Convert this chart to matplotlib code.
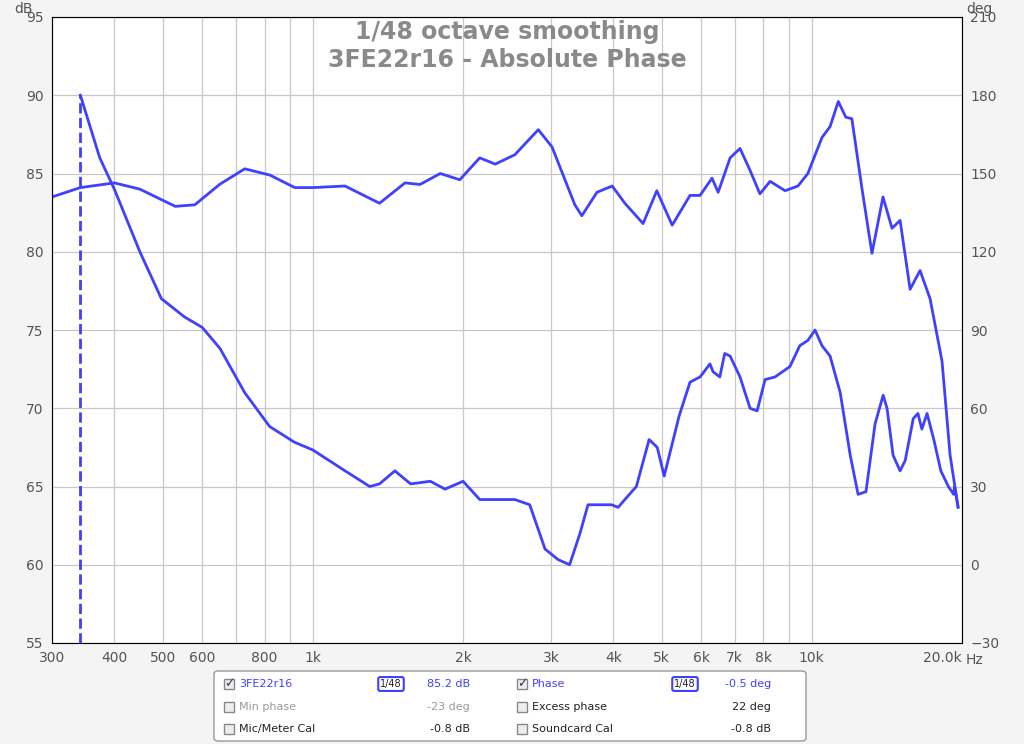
import matplotlib
matplotlib.use("Agg")
import matplotlib.pyplot as plt
from matplotlib.patches import FancyBboxPatch, Rectangle

# magnitude (dB, left axis)
mag_freq = [300, 342, 400, 450, 530, 580, 650, 730, 820, 920, 1000, 1160, 1360, 1530,
            1640, 1800, 1970, 2160, 2320, 2540, 2830, 3015, 3350, 3460, 3710, 3980,
            4220, 4590, 4890, 5250, 5700, 5970, 6310, 6490, 6860, 7180, 7520, 7870,
            8250, 8840, 9380, 9820, 10480, 10880, 11300, 11700, 12030, 12610, 13200,
            13890, 14480, 15030, 15740, 16480, 17260, 18240, 18930, 19640]
mag_db = [83.5, 84.1, 84.4, 84.0, 82.9, 83.0, 84.3, 85.3, 84.9, 84.1, 84.1, 84.2, 83.1, 84.4,
          84.3, 85.0, 84.6, 86.0, 85.6, 86.2, 87.8, 86.7, 83.0, 82.3, 83.8, 84.2,
          83.1, 81.8, 83.9, 81.7, 83.6, 83.6, 84.7, 83.8, 86.0, 86.6, 85.2, 83.7,
          84.5, 83.9, 84.2, 85.0, 87.3, 88.0, 89.6, 88.6, 88.5, 84.0, 79.9,
          83.5, 81.5, 82.0, 77.6, 78.8, 77.0, 73.0, 67.0, 63.7]

# phase (deg, right axis)
ph_freq = [342, 374, 400, 450, 497, 553, 600, 651, 730, 819, 918, 1000, 1160, 1300, 1360,
           1460, 1570, 1720, 1840, 2000, 2160, 2370, 2540, 2720, 2920, 3100, 3270, 3430,
           3560, 3970, 4090, 4220, 4450, 4720, 4900, 5060, 5420, 5700, 5970, 6250, 6340,
           6540, 6690, 6860, 7180, 7520, 7770, 8060, 8440, 9040, 9460, 9820, 10150,
           10480, 10880, 11400, 11940, 12380, 12840, 13390, 13900, 14150, 14550, 15030,
           15390, 15970, 16320, 16620, 17020, 17560, 18140, 18780, 19240, 19330, 19640]
ph_deg = [180, 156, 144, 120, 102, 95, 91, 83, 66, 53, 47, 44, 36, 30, 31,
          36, 31, 32, 29, 32, 25, 25, 25, 23, 6, 2, 0, 12,
          23, 23, 22, 25, 30, 48, 45, 34, 57, 70, 72, 77, 74,
          72, 81, 80, 72, 60, 59, 71, 72, 76, 84, 86, 90,
          84, 80, 66, 42, 27, 28, 54, 65, 60, 42, 36,
          40, 56, 58, 52, 58, 48, 36, 30, 27, 30, 22]

grid_freqs = [300, 400, 500, 600, 700, 800, 900, 1000, 2000, 3000, 4000, 5000,
              6000, 7000, 8000, 9000, 10000, 20000]
tick_freqs = [300, 400, 500, 600, 800, 1000, 2000, 3000, 4000, 5000, 6000, 7000,
              8000, 10000, 20000]
tick_labels = ["300", "400", "500", "600", "800", "1k", "2k", "3k", "4k", "5k", "6k",
               "7k", "8k", "10k", "20.0k"]

blue = "#4040ff"
grey = "#555555"

fig = plt.figure(figsize=(10.24, 7.44), dpi=100, facecolor="#f4f4f4")
ax = fig.add_axes([52 / 1024, 101 / 744, 910 / 1024, 626 / 744])
ax.set_xscale("log")
ax.set_xlim(300, 20000)
ax.set_ylim(55, 95)
ax.set_yticks(range(55, 96, 5))
ax.set_xticks(tick_freqs)
ax.set_xticklabels(tick_labels)
ax.get_xticklabels()[-1].set_horizontalalignment("right")
ax.get_xticklabels()[-1].set_x(20000)
ax.xaxis.set_minor_locator(matplotlib.ticker.NullLocator())
for f in grid_freqs:
    ax.axvline(f, color="#c8c8c8", lw=0.9, zorder=0)
ax.yaxis.grid(True, color="#c8c8c8", lw=0.9)
ax.tick_params(length=0, labelsize=10, colors=grey, pad=6)
for s in ax.spines.values():
    s.set_color("#999999")

ax.plot(mag_freq, mag_db, color=blue, lw=2)

ax2 = ax.twinx()
ax2.set_ylim(-30, 210)
ax2.set_yticks(range(-30, 211, 30))
ax2.tick_params(length=0, labelsize=10, colors=grey, pad=6)
ax2.set_xlim(300, 20000)
ax2.plot(ph_freq, ph_deg, color=blue, lw=2)
ax2.plot([ph_freq[0], ph_freq[0]], [-30, ph_deg[0]], color=blue, lw=2, ls="--")

fig.text(14 / 1024, 1 - 2 / 744, "dB", fontsize=10, color=grey, ha="left", va="top")
fig.text(966 / 1024, 1 - 2 / 744, "deg", fontsize=10, color=grey, va="top")
fig.text(966 / 1024, 1 - 660 / 744, "Hz", fontsize=10, color=grey, va="center")

ax.text(0.5, 0.995, "1/48 octave smoothing\n3FE22r16 - Absolute Phase",
        transform=ax.transAxes, ha="center", va="top", fontsize=17,
        fontweight="bold", color="#8a8a8a", linespacing=1.2)

# legend panel
fig.patches.append(FancyBboxPatch((214 / 1024, 3 / 744), 592 / 1024, 70 / 744,
                                  boxstyle="round,pad=0,rounding_size=0.004",
                                  transform=fig.transFigure, fc="white", ec="#999999"))
rows = [
    (684, "3FE22r16", True, blue, "85.2 dB", "Phase", True, blue, "-0.5 deg"),
    (707, "Min phase", False, "#999999", "-23 deg", "Excess phase", False, "#222222", "22 deg"),
    (729, "Mic/Meter Cal", False, "#222222", "-0.8 dB", "Soundcard Cal", False, "#222222", "-0.8 dB"),
]
for y, n1, c1, col1, v1, n2, c2, col2, v2 in rows:
    yf = 1 - y / 744
    for bx, name, chk, col, val, vx in [(224, n1, c1, col1, v1, 470), (517, n2, c2, col2, v2, 771)]:
        fig.patches.append(Rectangle((bx / 1024, yf - 5 / 744), 10 / 1024, 10 / 744,
                                     transform=fig.transFigure, fc="#eeeeee", ec="#888888"))
        if chk:
            fig.text((bx + 5) / 1024, yf, "\u2713", fontsize=9, ha="center", va="center", color="#333366")
        fig.text((bx + 15) / 1024, yf, name, fontsize=8, color=col, va="center")
        fig.text(vx / 1024, yf, val, fontsize=8, color=col, va="center", ha="right")
    if y == 684:
        for sx in (391, 685):
            fig.text(sx / 1024, yf, "1/48", fontsize=7, color="#222222", ha="center", va="center",
                     bbox=dict(boxstyle="round,pad=0.2", fc="white", ec=blue, lw=1.5))

fig.savefig("out.png", dpi=100, facecolor=fig.get_facecolor())
